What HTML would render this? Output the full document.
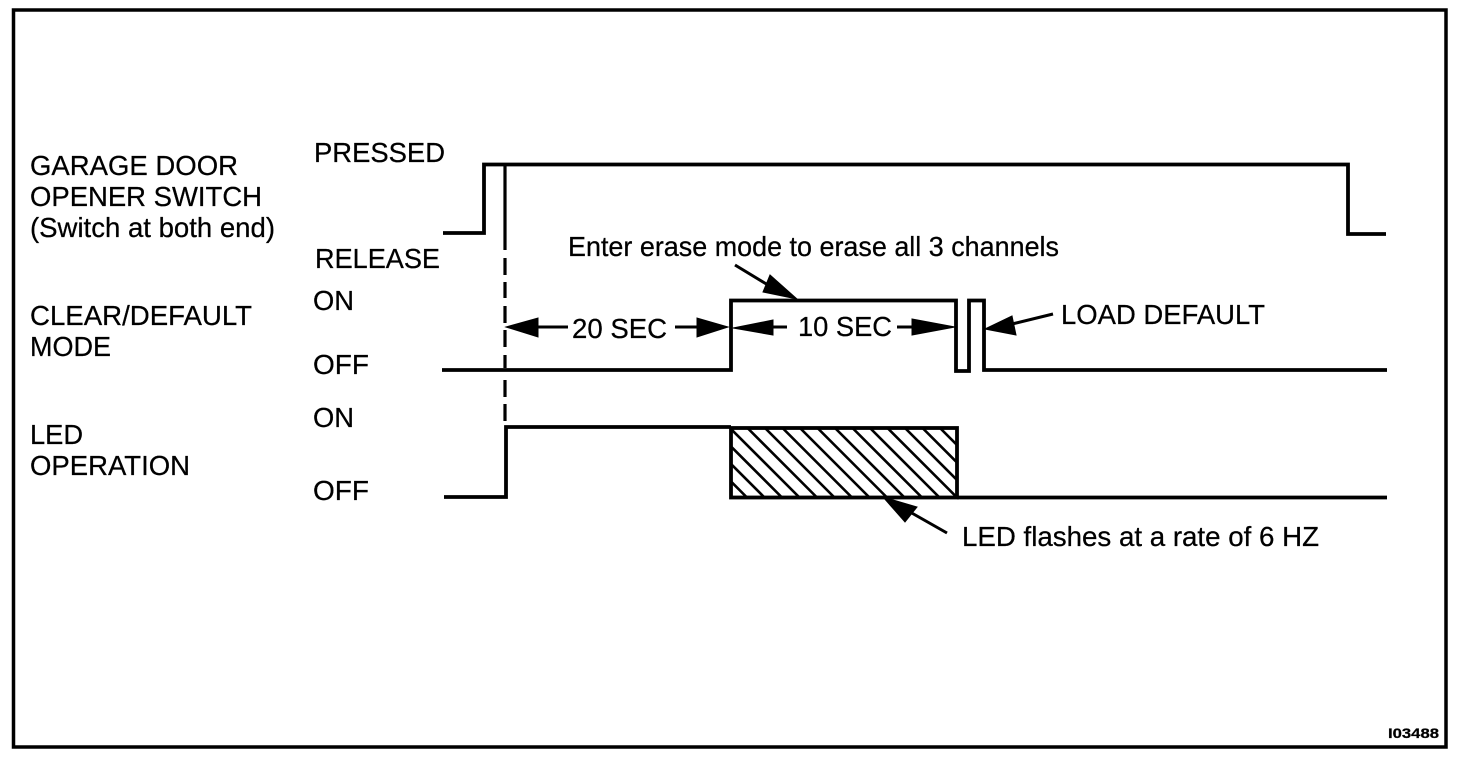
<!DOCTYPE html>
<html><head><meta charset="utf-8"><style>
html,body{margin:0;padding:0;background:#fff}
svg{display:block}
text{font-family:"Liberation Sans",Arial,sans-serif;font-size:27.5px;fill:#000;stroke:#000;stroke-width:.25px}
</style></head><body>
<svg width="1472" height="760" viewBox="0 0 1472 760">
<defs><clipPath id="c"><rect x="731" y="428" width="226" height="69.5"/></clipPath></defs>
<rect x="13.5" y="10" width="1432.5" height="737" fill="none" stroke="#000" stroke-width="3.5"/>
<path clip-path="url(#c)" fill="none" stroke="#000" stroke-width="2.6" d="M677.5 428l69 69M695 428l69 69M712.5 428l69 69M730 428l69 69M747.5 428l69 69M765 428l69 69M782.5 428l69 69M800 428l69 69M817.5 428l69 69M835 428l69 69M852.5 428l69 69M870 428l69 69M887.5 428l69 69M905 428l69 69M922.5 428l69 69M940 428l69 69M957.5 428l69 69"/>
<g fill="none" stroke="#000" stroke-width="3.8">
<path d="M443 233H484V164.5H1348V234H1386"/>
<path d="M505 165V250M505 258V275M505 282V298M505 306V323M505 330V347M505 355V368M505 380V397M505 404V421" stroke-width="3.2"/>
<path d="M442 370H731V300.5H956V371H969V300.5H984V370H1387"/>
<path d="M444 497H506V427H731"/>
<rect x="731" y="428" width="226" height="69.5"/>
<path d="M957 497.5H1387"/>
<path d="M535 327H568M675 327H700M770 327H787M897 327H915" stroke-width="3"/>
<path d="M1053 314L1012 324M735 265L768 285M947 533L910 512" stroke-width="3"/>
</g>
<g fill="#000" stroke="#000" stroke-width="1">
<path d="M506 327L538 318V337Z"/><path d="M728 327L697 318V337Z"/>
<path d="M733 328L773 320V335Z"/><path d="M955 327L912 319V335Z"/>
<path d="M985 329L1012 316L1016 335Z"/>
<path d="M797 299L770 275L763 292Z"/>
<path d="M883 497L917 507L905 522Z"/>
</g>
<text x="30" y="175" textLength="208" lengthAdjust="spacingAndGlyphs">GARAGE DOOR</text>
<text x="30" y="206" textLength="232" lengthAdjust="spacingAndGlyphs">OPENER SWITCH</text>
<text x="30" y="237" textLength="245" lengthAdjust="spacingAndGlyphs">(Switch at both end)</text>
<text x="314" y="162" textLength="131" lengthAdjust="spacingAndGlyphs">PRESSED</text>
<text x="315" y="268" textLength="125" lengthAdjust="spacingAndGlyphs">RELEASE</text>
<text x="313" y="310" textLength="41" lengthAdjust="spacingAndGlyphs">ON</text>
<text x="30" y="325" textLength="222" lengthAdjust="spacingAndGlyphs">CLEAR/DEFAULT</text>
<text x="30" y="356" textLength="81" lengthAdjust="spacingAndGlyphs">MODE</text>
<text x="313" y="374" textLength="56" lengthAdjust="spacingAndGlyphs">OFF</text>
<text x="313" y="427" textLength="41" lengthAdjust="spacingAndGlyphs">ON</text>
<text x="30" y="444" textLength="53" lengthAdjust="spacingAndGlyphs">LED</text>
<text x="30" y="475" textLength="160" lengthAdjust="spacingAndGlyphs">OPERATION</text>
<text x="313" y="500" textLength="56" lengthAdjust="spacingAndGlyphs">OFF</text>
<text x="568" y="256" textLength="491" lengthAdjust="spacingAndGlyphs">Enter erase mode to erase all 3 channels</text>
<text x="572" y="338" textLength="95" lengthAdjust="spacingAndGlyphs">20 SEC</text>
<text x="798" y="336" textLength="94" lengthAdjust="spacingAndGlyphs">10 SEC</text>
<text x="1061" y="324" textLength="204" lengthAdjust="spacingAndGlyphs">LOAD DEFAULT</text>
<text x="962" y="546" textLength="357" lengthAdjust="spacingAndGlyphs">LED flashes at a rate of 6 HZ</text>
<text x="1388" y="738" textLength="51" lengthAdjust="spacingAndGlyphs" style="font-size:14px;font-weight:bold">I03488</text>
</svg>
</body></html>
